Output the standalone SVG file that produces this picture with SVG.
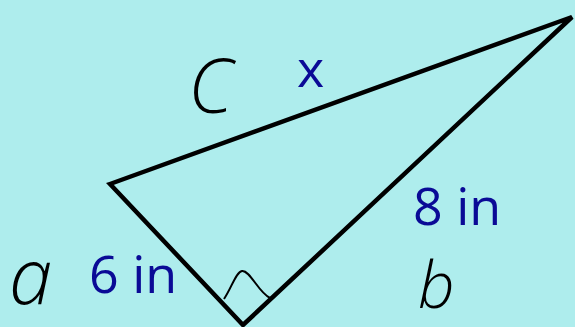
<svg xmlns="http://www.w3.org/2000/svg" width="575" height="327" viewBox="0 0 575 327">
<style>
.lbl{font-family:"Open Sans","Liberation Sans",sans-serif;font-size:52px;fill:#0a0a96}
.hand{font-family:"Open Sans","Liberation Sans",sans-serif;font-style:italic;font-weight:300;fill:#000}
</style>
<rect x="0" y="0" width="575" height="327" fill="#aeeded"/>
<g id="triangle">
<polygon points="110,184 572,17 243,325" fill="none" stroke="#000" stroke-width="4.5" stroke-linejoin="miter"/>
<path d="M224,299 C232,287 236,272 242,271 C250,270 258,292 270,298" fill="none" stroke="#000" stroke-width="2"/>
</g>
<g id="labels">
<text class="lbl" x="297" y="87">x</text>
<text class="lbl" x="413" y="225">8 in</text>
<text class="lbl" x="89" y="293">6 in</text>
</g>
<g id="handwriting">
<text class="hand" x="188" y="113" font-size="76">C</text>
<text class="hand" x="9" y="304" font-size="78">a</text>
<text class="hand" x="418" y="308" font-size="64">b</text>
</g>
</svg>
